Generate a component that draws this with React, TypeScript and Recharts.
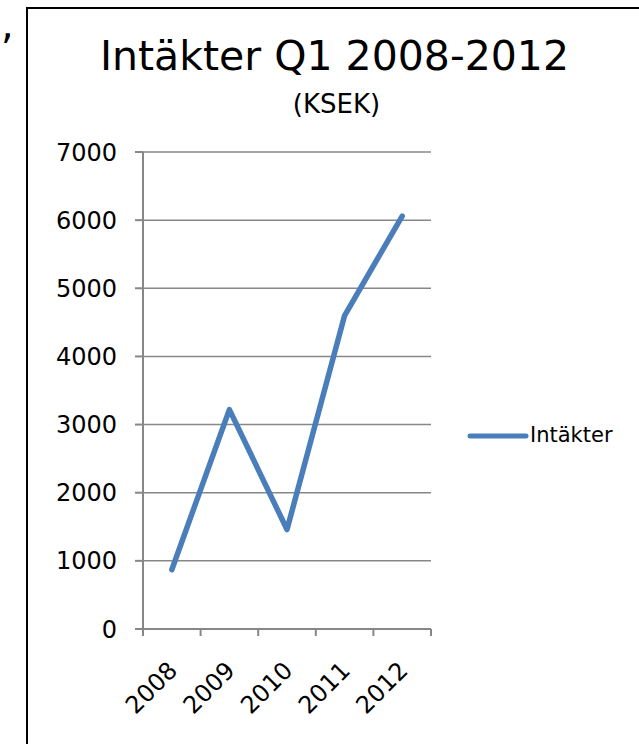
import { LineChart, Line, XAxis, YAxis, CartesianGrid, Legend } from "recharts"

// Revenue Q1 per year, KSEK
const years = ["2008", "2009", "2010", "2011", "2012"]
const revenue = [870, 3220, 1460, 4600, 6060]
const yTicks = [0, 1000, 2000, 3000, 4000, 5000, 6000, 7000]
const seriesName = "Intäkter"

const data = years.map((year, i) => ({ year, value: revenue[i] }))

const FONT = "'DejaVu Sans', Verdana, sans-serif"
const LINE_COLOR = "#4a7ebb"
const AXIS_COLOR = "#878787"
const W = 639
const H = 744
const PLOT_LEFT = 143
const PLOT_RIGHT = 431
const LEGEND_W = 200
const HALF_BAND = (PLOT_RIGHT - PLOT_LEFT) / years.length / 2

function YearTick(props: any) {
  const { x, y, payload, index } = props
  return (
    <g>
      <line x1={x - HALF_BAND} y1={y} x2={x - HALF_BAND} y2={y + 7} stroke={AXIS_COLOR} strokeWidth={2} />
      {index === years.length - 1 && (
        <line x1={x + HALF_BAND} y1={y} x2={x + HALF_BAND} y2={y + 7} stroke={AXIS_COLOR} strokeWidth={2} />
      )}
      <text
        x={0}
        y={0}
        transform={`translate(${x + 7},${y + 43}) rotate(-45)`}
        textAnchor="end"
        fontFamily={FONT}
        fontSize={24}
        fill="#000"
      >
        {payload.value}
      </text>
    </g>
  )
}

function LegendContent(props: any) {
  const item = props.payload?.[0]
  return (
    <svg width={LEGEND_W} height={30} style={{ display: "block" }}>
      <line x1={39} y1={16} x2={95} y2={16} stroke={LINE_COLOR} strokeWidth={5} strokeLinecap="round" />
      <text x={99} y={22} fontFamily={FONT} fontSize={21} fill="#000">
        {item?.value ?? seriesName}
      </text>
    </svg>
  )
}

export default function App() {
  return (
    <div
      style={{
        position: "absolute",
        left: 0,
        top: 0,
        width: W,
        height: H,
        overflow: "hidden",
        background: "#fff",
      }}
    >
      <div
        style={{
          position: "absolute",
          left: 26,
          top: 7,
          width: 700,
          height: 800,
          border: "2px solid #000",
          boxSizing: "border-box",
        }}
      />
      <svg width={W} height={130} style={{ position: "absolute", left: 0, top: 0 }}>
        <text x={1} y={38} fontFamily={FONT} fontSize={40} fill="#000">
          ,
        </text>
        <text x={334.5} y={70} textAnchor="middle" fontFamily={FONT} fontSize={41} fill="#000">
          Intäkter Q1 2008-2012
        </text>
        <text x={336.5} y={113} textAnchor="middle" fontFamily={FONT} fontSize={26} fill="#000">
          (KSEK)
        </text>
      </svg>
      <div style={{ position: "absolute", left: 0, top: 0 }}>
        <LineChart
          width={W}
          height={H}
          data={data}
          margin={{ top: 152, right: W - PLOT_RIGHT - LEGEND_W, bottom: 15, left: 0 }}
        >
          <CartesianGrid vertical={false} stroke={AXIS_COLOR} strokeWidth={1.5} />
          <XAxis
            dataKey="year"
            scale="band"
            height={100}
            tickSize={0}
            tickMargin={0}
            tickLine={false}
            axisLine={{ stroke: AXIS_COLOR, strokeWidth: 2 }}
            tick={<YearTick />}
            interval={0}
          />
          <YAxis
            width={PLOT_LEFT}
            domain={[0, 7000]}
            ticks={yTicks}
            tickSize={8}
            tickMargin={18}
            tickLine={{ stroke: AXIS_COLOR, strokeWidth: 2 }}
            axisLine={{ stroke: AXIS_COLOR, strokeWidth: 2 }}
            tick={{ fontFamily: FONT, fontSize: 24, fill: "#000" }}
          />
          <Legend
            layout="vertical"
            align="right"
            verticalAlign="middle"
            content={<LegendContent />}
            wrapperStyle={{ top: 420, left: PLOT_RIGHT, width: LEGEND_W }}
          />
          <Line
            type="linear"
            dataKey="value"
            name={seriesName}
            stroke={LINE_COLOR}
            strokeWidth={5.5}
            strokeLinecap="round"
            strokeLinejoin="round"
            dot={false}
            activeDot={false}
            isAnimationActive={false}
          />
        </LineChart>
      </div>
    </div>
  )
}
